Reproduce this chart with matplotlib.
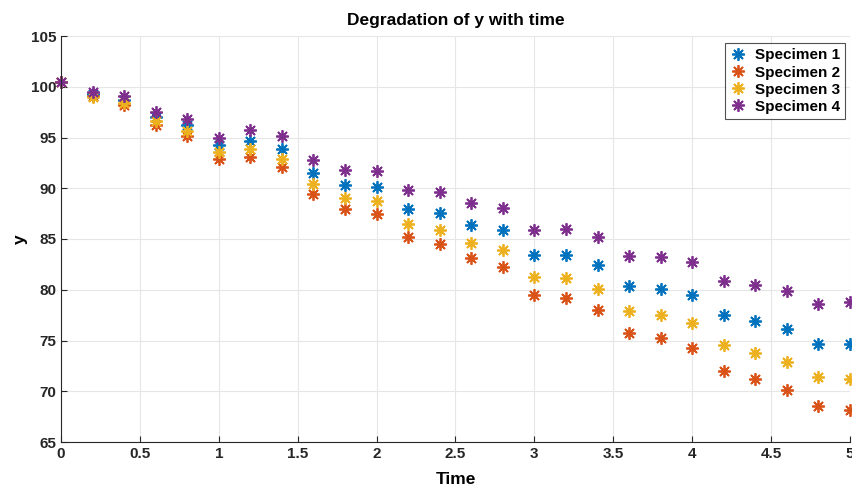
import matplotlib
matplotlib.use("Agg")
import matplotlib.pyplot as plt
import numpy as np

time = [0, 0.2, 0.4, 0.6, 0.8, 1.0, 1.2, 1.4, 1.6, 1.8, 2.0, 2.2, 2.4, 2.6,
        2.8, 3.0, 3.2, 3.4, 3.6, 3.8, 4.0, 4.2, 4.4, 4.6, 4.8, 5.0]

specimen1 = [100.5, 99.3, 98.7, 97.0, 96.2, 94.3, 94.7, 93.9, 91.5, 90.3, 90.1, 88.0, 87.6,
             86.4, 85.9, 83.4, 83.4, 82.4, 80.4, 80.1, 79.5, 77.5, 76.9, 76.1, 74.7, 74.7]
specimen2 = [100.5, 99.1, 98.2, 96.2, 95.1, 92.9, 93.1, 92.1, 89.4, 88.0, 87.5, 85.2, 84.5,
             83.1, 82.2, 79.5, 79.2, 78.0, 75.7, 75.2, 74.3, 72.0, 71.2, 70.1, 68.5, 68.2]
specimen3 = [100.5, 99.0, 98.4, 96.6, 95.6, 93.6, 93.9, 92.9, 90.4, 89.0, 88.7, 86.5, 85.9,
             84.6, 83.9, 81.3, 81.2, 80.1, 77.9, 77.5, 76.7, 74.6, 73.8, 72.9, 71.4, 71.2]
specimen4 = [100.5, 99.5, 99.1, 97.5, 96.8, 95.0, 95.7, 95.1, 92.8, 91.8, 91.7, 89.8, 89.6,
             88.5, 88.1, 85.9, 86.0, 85.2, 83.3, 83.2, 82.7, 80.9, 80.5, 79.9, 78.6, 78.8]

series = [specimen1, specimen2, specimen3, specimen4]
labels = ["Specimen 1", "Specimen 2", "Specimen 3", "Specimen 4"]
colors = ["#0072BD", "#D95319", "#EDB120", "#7E2F8E"]

plt.rcParams['font.family'] = ['Liberation Sans', 'DejaVu Sans']
plt.rcParams['font.weight'] = 'bold'

fig = plt.figure(figsize=(8.53, 4.87), dpi=100)
ax = fig.add_axes([61/853, 1 - 442/487, (850-61)/853, (442-36)/487])

for vals, lab, col in zip(series, labels, colors):
    ax.plot(time, vals, linestyle='none', marker=(8, 2, 0), markersize=9,
            markeredgewidth=1.3, color=col, label=lab, clip_on=False)

ax.set_xlim(0, 5)
ax.set_ylim(65, 105)
ax.set_xticks(np.arange(0, 5.01, 0.5))
ax.set_xticklabels(['0', '0.5', '1', '1.5', '2', '2.5', '3', '3.5', '4', '4.5', '5'])
ax.set_yticks(np.arange(65, 105.1, 5))
ax.grid(True, color='#e6e6e6', linewidth=0.8)
ax.set_axisbelow(True)
for s in ['left', 'bottom']:
    ax.spines[s].set_color('#262626')
    ax.spines[s].set_linewidth(0.8)
for s in ['top', 'right']:
    ax.spines[s].set_visible(False)
ax.tick_params(direction='in', length=4, width=0.8, colors='#262626', labelsize=11,
               top=False, right=False)
for t in ax.get_xticklabels() + ax.get_yticklabels():
    t.set_fontweight('bold')

ax.set_title('Degradation of y with time', fontsize=12.5, fontweight='bold', pad=8)
ax.set_xlabel('Time', fontsize=12.5, fontweight='bold', labelpad=8)
ax.set_ylabel('y', fontsize=12.5, fontweight='bold', labelpad=2)

leg = ax.legend(loc='upper right', bbox_to_anchor=(0.998, 0.99), fontsize=11,
                frameon=True, fancybox=False, edgecolor='#262626', handlelength=1.0,
                handletextpad=0.6, borderpad=0.35, labelspacing=0.2, borderaxespad=0.2)
leg.get_frame().set_linewidth(0.8)
for t in leg.get_texts():
    t.set_fontweight('bold')

fig.savefig('out.png', dpi=100)
